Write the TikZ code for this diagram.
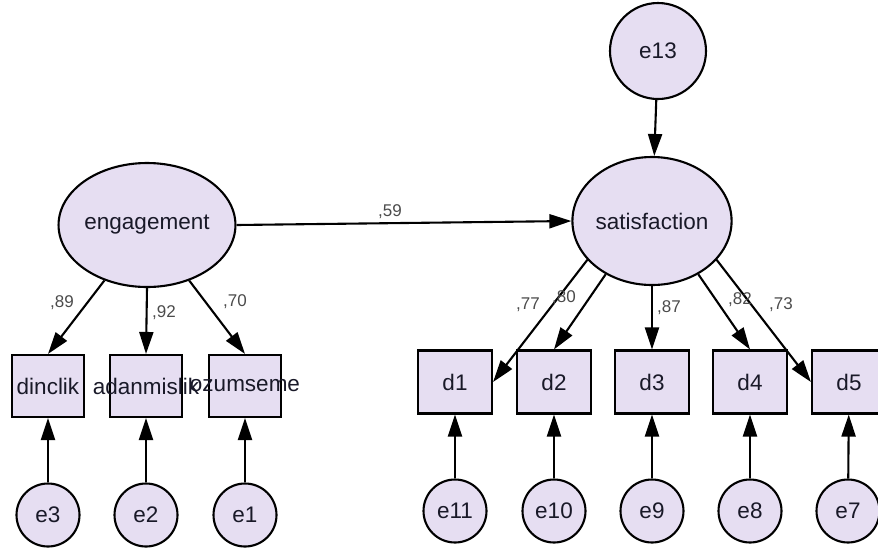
\documentclass[tikz,border=0pt]{standalone}
\usepackage{fontspec}
\setmainfont{Liberation Sans}
\usetikzlibrary{shapes.geometric,arrows.meta}
\definecolor{lav}{RGB}{230,222,242}
\definecolor{ink}{RGB}{25,25,40}
\definecolor{lbl}{RGB}{75,75,75}
\begin{document}
\begin{tikzpicture}[x=1pt,y=-1pt,
  every node/.style={text=ink,font=\fontsize{22.5}{24}\selectfont},
  latent/.style={ellipse,draw=black,fill=lav,line width=2.1pt,inner sep=0pt},
  err/.style={circle,draw=black,fill=lav,line width=2.1pt,minimum size=63pt,inner sep=0pt},
  obs/.style={rectangle,draw=black,fill=lav,line width=2.1pt,minimum width=72pt,minimum height=62pt,inner sep=0pt},
  arr/.style={line width=2.1pt,-{Triangle[length=22pt,width=14pt]}},
  coef/.style={text=lbl,font=\fontsize{17}{18}\selectfont,inner sep=0pt}]
\useasboundingbox (0,0) rectangle (878,550);
\clip (0,0) rectangle (878,550);
% latent variables
\node[latent,minimum width=148pt,minimum height=124pt] (eng) at (147,225) {engagement};
\node[latent,minimum width=147pt,minimum height=128pt] (sat) at (652,221) {satisfaction};
\node[err,minimum size=96pt] (e13) at (658,51) {e13};
% left observed
\node[obs] (b1) at (48,386) {};
\node[obs] (b2) at (146,386) {};
\node[obs] (b3) at (245,386) {};
\node (t1) at (b1) {dinclik};
\node (t2) at (b2) {adanmislik};
\node (t3) at (b3) {ozumseme};
% right observed
\node[obs,minimum width=74pt,minimum height=63pt] (d1) at (455,382) {d1};
\node[obs,minimum width=74pt,minimum height=63pt] (d2) at (554,382) {d2};
\node[obs,minimum width=74pt,minimum height=63pt] (d3) at (652,382) {d3};
\node[obs,minimum width=74pt,minimum height=63pt] (d4) at (750,382) {d4};
\node[obs,minimum width=74pt,minimum height=63pt] (d5) at (849,382) {d5};
% errors
\node[err] (e3) at (48,515) {e3};
\node[err] (e2) at (146,515) {e2};
\node[err] (e1) at (245,515) {e1};
\node[err] (e11) at (455,511) {e11};
\node[err] (e10) at (554,511) {e10};
\node[err] (e9) at (652,511) {e9};
\node[err] (e8) at (750,511) {e8};
\node[err] (e7) at (848,511) {e7};
% paths
\draw[arr] (eng.east) -- (sat.west);
\draw[arr] (e13) -- (sat);
\draw[arr] (eng) -- (b1.north);
\draw[arr] (eng.south) -- (b2.north);
\draw[arr] (eng) -- (b3.north);
\draw[arr] (sat.211) -- (d1.east);
\draw[arr] (sat.229) -- (d2.north);
\draw[arr] (sat.south) -- (d3.north);
\draw[arr] (sat.311) -- (d4.north);
\draw[arr] (sat.329) -- (d5.west);
\foreach \e/\b in {e3/b1,e2/b2,e1/b3,e11/d1,e10/d2,e9/d3,e8/d4,e7/d5}
  \draw[arr] (\e) -- (\b);
% coefficients
\node[coef] (c59) at (390,212) {,59};
\node[coef] (c89) at (62,303) {,89};
\node[coef] (c92) at (164,313) {,92};
\node[coef] (c70) at (235,302) {,70};
\node[coef] (c77) at (528,305) {,77};
\node[coef] (c80) at (564,298) {,80};
\node[coef] (c87) at (669,308) {,87};
\node[coef] (c82) at (740,300) {,82};
\node[coef] (c73) at (781,305) {,73};
\end{tikzpicture}
\end{document}
